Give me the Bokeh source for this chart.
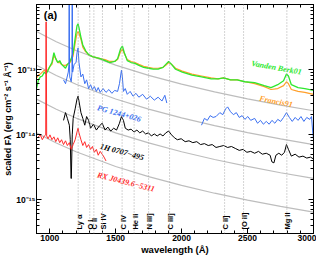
import numpy as np
from bokeh.plotting import figure
from bokeh.models import (Range1d, LogAxis, LinearAxis, FixedTicker,
                          CustomJSTickFormatter, Span)
from bokeh.core.properties import value
from bokeh.embed import file_html
from bokeh.resources import INLINE

# ---------------- data (flux values in units of 1e-14 erg/cm2/s/A) -------------
vb_wave = [900, 915, 929, 944, 959, 973, 988, 1002, 1017, 1032, 1046, 1061, 1076, 1090, 1105,
           1120, 1134, 1149, 1163, 1178, 1193, 1207, 1215, 1222, 1237, 1251, 1273, 1295, 1324,
           1354, 1383, 1420, 1456, 1493, 1515, 1537, 1551, 1566, 1588, 1617, 1646, 1676, 1712,
           1749, 1785, 1822, 1859, 1880, 1902, 1924, 1954, 2005, 2078, 2151, 2224, 2276, 2319,
           2371, 2422, 2480, 2554, 2627, 2678, 2729, 2773, 2795, 2810, 2832, 2883, 2934, 3000]
vb_flux = [5.09, 6.93, 7.69, 7.95, 9.12, 8.51, 9.76, 11.2, 12.8, 18.1, 14.7, 12.8, 13.7, 12.0, 11.2,
           10.45, 12.0, 12.8, 14.7, 18.1, 30.2, 47.1, 50.4, 44.0, 31.3, 23.8, 19.4, 16.9, 15.8,
           15.2, 14.7, 13.7, 12.8, 13.3, 14.7, 20.7, 23.0, 18.1, 13.7, 12.8, 12.4, 11.6, 10.8,
           10.45, 10.1, 10.1, 10.8, 12.0, 13.3, 12.0, 10.1, 9.12, 8.2, 7.69, 7.18, 7.18, 7.43,
           6.93, 6.93, 6.48, 6.26, 5.65, 5.27, 5.84, 6.70, 8.51, 7.95, 5.84, 5.27, 5.09, 4.76]
fr_wave = vb_wave
fr_flux = [7.43, 8.2, 8.51, 9.12, 9.76, 9.12, 10.1, 11.2, 12.0, 16.3, 14.7, 12.8, 12.8, 12.0, 11.6,
           11.6, 12.0, 12.4, 13.7, 16.3, 25.5, 35.8, 38.4, 35.8, 29.2, 22.1, 18.7, 16.9, 15.8,
           15.2, 14.7, 14.2, 13.3, 13.3, 14.2, 18.7, 20.7, 17.5, 14.2, 13.3, 12.8, 12.0, 11.2,
           10.8, 10.45, 10.45, 10.8, 11.6, 12.8, 12.0, 10.45, 9.43, 8.51, 7.95, 7.43, 7.18, 7.43,
           6.93, 6.93, 6.48, 6.05, 5.46, 4.92, 5.09, 5.65, 6.48, 6.05, 4.92, 4.60, 4.45, 4.15]

pg_wave1 = [1105, 1120, 1134, 1141, 1146, 1147, 1149, 1150, 1152, 1163, 1169, 1170, 1172, 1173,
            1174, 1185, 1200, 1207, 1215, 1222, 1237, 1251, 1266, 1280, 1295, 1310, 1324, 1339,
            1354, 1368, 1383, 1405, 1427, 1449, 1471, 1493, 1515, 1529, 1544, 1551, 1559, 1573,
            1588, 1610, 1632, 1654, 1676, 1705, 1734, 1763, 1793, 1822, 1851, 1873, 1888]
pg_flux1 = [6.93, 6.05, 7.95, 9.12, 12.0, 200, 200, 12.0, 7.69, 6.48, 9.0, 200, 200, 10.0,
            9.12, 12.0, 12.8, 18.1, 21.4, 12.8, 7.69, 8.51, 6.05, 6.93, 5.09, 5.84, 4.92, 5.46,
            4.60, 5.27, 4.45, 5.09, 4.45, 4.92, 4.30, 4.76, 4.60, 6.05, 9.76, 7.69, 4.60, 5.09,
            4.15, 4.60, 3.88, 4.30, 3.75, 4.15, 3.50, 3.88, 3.38, 3.75, 3.27, 4.01, 3.05]
pg_wave2 = [2151, 2173, 2195, 2217, 2239, 2261, 2290, 2312, 2334, 2349, 2371, 2393, 2415, 2437,
            2459, 2480, 2502, 2524, 2554, 2576, 2598, 2620, 2642, 2664, 2685, 2707, 2729, 2751,
            2773, 2795, 2817, 2839, 2861, 2883, 2905, 2927, 2949, 2971, 2985, 2993, 3000]
pg_flux2 = [1.39, 1.77, 1.65, 1.95, 1.83, 1.89, 2.17, 2.02, 2.48, 2.66, 2.24, 2.02, 2.17, 1.83,
            1.95, 1.71, 1.89, 1.65, 1.77, 1.49, 1.65, 1.44, 1.59, 1.44, 1.65, 1.49, 1.71, 1.59,
            1.83, 2.17, 1.83, 1.59, 1.83, 1.65, 1.89, 1.59, 1.83, 1.71, 1.89, 1.17, 0.831]

h_wave = [1105, 1120, 1134, 1149, 1156, 1162, 1164, 1171, 1178, 1193, 1207, 1215, 1222, 1237,
          1251, 1266, 1280, 1295, 1310, 1332, 1354, 1376, 1398, 1420, 1441, 1463, 1485, 1507,
          1529, 1544, 1559, 1573, 1595, 1617, 1639, 1661, 1683, 1705, 1727, 1749, 1771, 1793,
          1815, 1837, 1859, 1880, 1902, 1924, 1946, 1968, 1997, 2027, 2056, 2085, 2115, 2144,
          2173, 2202, 2232, 2261, 2290, 2319, 2349, 2378, 2407, 2437, 2466, 2495, 2524, 2554,
          2583, 2612, 2642, 2671, 2685, 2700, 2715, 2737, 2759, 2780, 2795, 2810, 2832, 2861,
          2890, 2920, 2949, 2978, 3000]
h_flux = [1.65, 2.17, 1.77, 1.39, 0.831, 0.211, 0.211, 0.987, 1.77, 2.48, 3.50, 3.88, 3.27,
          2.17, 1.77, 1.39, 1.89, 1.65, 1.25, 1.44, 1.17, 1.35, 1.49, 1.17, 1.30, 1.13, 1.25,
          1.17, 1.49, 1.89, 1.65, 1.25, 1.17, 1.21, 1.09, 1.17, 1.06, 1.13, 1.02, 1.06, 0.95,
          1.02, 0.95, 1.02, 0.95, 1.06, 1.13, 0.987, 0.890, 0.831, 0.86, 0.776, 0.80, 0.750,
          0.776, 0.700, 0.724, 0.677, 0.700, 0.632, 0.654, 0.677, 0.632, 0.654, 0.611, 0.57,
          0.590, 0.533, 0.55, 0.515, 0.55, 0.498, 0.515, 0.48, 0.379, 0.366, 0.48, 0.515, 0.48,
          0.533, 0.700, 0.590, 0.465, 0.498, 0.449, 0.465, 0.434, 0.449, 0.419]

rx_wave = [907, 929, 944, 959, 970, 972, 974, 977, 988, 1002, 1017, 1032, 1046, 1061, 1076,
           1090, 1105, 1120, 1134, 1149, 1163, 1178, 1193, 1207, 1215, 1222, 1237, 1251, 1266,
           1280, 1295, 1310, 1324, 1339, 1354, 1368, 1383, 1398, 1412, 1427]
rx_flux = [0.89, 0.987, 0.831, 0.95, 0.987, 54.0, 54.0, 0.95, 0.86, 0.987, 0.831, 0.921, 0.776,
           0.89, 0.75, 0.831, 0.70, 0.80, 0.677, 0.75, 0.59, 0.70, 0.831, 1.09, 1.25, 1.06,
           0.831, 0.677, 0.776, 0.632, 0.70, 0.59, 0.654, 0.533, 0.59, 0.48, 0.55, 0.498,
           0.449, 0.392]

# power-law (lambda^-7/3) reference continua, read at a few wavelengths
pl_wave = [900, 1050, 1200, 1500, 1750, 2000, 2250, 2500, 2750, 3000]
pl_1 = [38.4, 26.8, 19.6, 11.7, 8.14, 5.96, 4.53, 3.54, 2.83, 2.32]
pl_2 = [11.6, 8.10, 5.93, 3.52, 2.46, 1.80, 1.37, 1.07, 0.856, 0.699]
pl_3 = [3.50, 2.44, 1.79, 1.06, 0.742, 0.543, 0.413, 0.323, 0.258, 0.211]
pl_4 = [1.06, 0.740, 0.542, 0.322, 0.225, 0.165, 0.125, 0.0977, 0.0782, 0.0639]

line_wave = [1216, 1304, 1335, 1400, 1549, 1640, 1750, 1909, 2326, 2470, 2798]
line_name = ["Ly \u03b1", "O I", "C II", "Si IV", "C IV", "He II", "N III]", "C III]",
             "C II]", "[O II]", "Mg II"]

x_ticks = [1000, 1500, 2000, 2500, 3000]
y_ticks = [1e-15, 1e-14, 1e-13]

UNIT = 1e-14
def f(v):
    return np.array(v) * UNIT

# ---------------- figure ----------------
FONT = "Liberation Sans"
p = figure(width=316, height=257, y_axis_type="log",
           x_range=Range1d(900, 3000), y_range=Range1d(3e-16, 1e-12),
           output_backend="svg", toolbar_location=None,
           min_border_left=0, min_border_right=2, min_border_top=2, min_border_bottom=0)
p.grid.visible = False
p.outline_line_color = "black"
p.outline_line_width = 1
p.background_fill_color = "white"
p.border_fill_color = "white"

xminor = list(range(900, 3001, 100))
yminor = [m * 10.0 ** e for e in range(-16, -12) for m in range(2, 10)]
xt = FixedTicker(ticks=x_ticks, minor_ticks=xminor)
yt = FixedTicker(ticks=y_ticks, minor_ticks=yminor)

fmt = CustomJSTickFormatter(code="""
const e = Math.round(Math.log10(tick));
const sup = {"-":"\u207b","0":"\u2070","1":"\u00b9","2":"\u00b2","3":"\u00b3","4":"\u2074","5":"\u2075","6":"\u2076","7":"\u2077","8":"\u2078","9":"\u2079"};
return "10" + String(e).split("").map(c => sup[c]).join("");
""")
blank = CustomJSTickFormatter(code="return ' ';")

def style(ax):
    ax.axis_line_color = "black"
    ax.major_tick_in = 5
    ax.major_tick_out = 0
    ax.minor_tick_in = 3
    ax.minor_tick_out = 0
    ax.major_label_text_font = FONT
    ax.major_label_text_font_style = "bold"
    ax.major_label_text_font_size = "8.5px"
    ax.major_label_text_color = "black"
    ax.axis_label_text_font = FONT
    ax.axis_label_text_font_style = "bold"
    ax.axis_label_text_font_size = "9.5px"
    ax.axis_label_text_color = "black"
    ax.major_label_standoff = 1
    ax.axis_label_standoff = 0

xa = p.xaxis[0]
xa.ticker = xt
style(xa)
xa.axis_label = "wavelength (\u00c5)"

ya = p.yaxis[0]
ya.ticker = yt
ya.formatter = fmt
style(ya)
ya.axis_label_text_font_size = "9px"
ya.axis_label = "scaled F\u03bb (erg cm\u207b\u00b2 s\u207b\u00b9 \u00c5\u207b\u00b9)"

top = LinearAxis(ticker=xt, formatter=blank)
right = LogAxis(ticker=yt, formatter=blank)
for ax in (top, right):
    style(ax)
    ax.major_label_text_font_size = "1px"
    ax.major_label_standoff = 0
p.add_layout(top, "above")
p.add_layout(right, "right")

# dotted emission-line markers
for w in line_wave:
    p.add_layout(Span(location=w, dimension="height", line_color="#a8a8a8",
                      line_dash="1 2", line_width=1))

# power-law continua
for pl in (pl_1, pl_2, pl_3, pl_4):
    p.line(pl_wave, f(pl), line_color="#bdbdbd", line_width=1.2)

# spectra
p.line(fr_wave, f(fr_flux), line_color="#ff9f2a", line_width=1.2)
p.line(vb_wave, f(vb_flux), line_color="#2ee82e", line_width=1.3)
p.line(pg_wave1, f(pg_flux1), line_color="#3a6ff0", line_width=1)
p.line(pg_wave2, f(pg_flux2), line_color="#3a6ff0", line_width=1)
p.line(h_wave, f(h_flux), line_color="black", line_width=1)
p.line(rx_wave, f(rx_flux), line_color="#ff2a2a", line_width=1)

# emission-line labels
p.text(x=line_wave, y=[3.45e-16] * len(line_wave), text=line_name, angle=np.pi / 2,
       text_align="left", text_baseline="middle", x_offset=1,
       text_font=value(FONT), text_font_style="bold", text_font_size="7.5px",
       text_color="black")

# spectrum labels
lab_text = ["Vanden Berk01", "Francis91", "PG 1244+026", "1H 0707\u2212495", "RX J0439.6\u22125311"]
lab_x = [2530, 2590, 1361, 1383, 1361]
lab_y = [1.25e-13, 3.6e-14, 2.6e-14, 6.6e-15, 2.4e-15]
lab_c = ["#2ee82e", "#ff9f2a", "#3a6ff0", "black", "#ff2a2a"]
lab_a = [-0.18, -0.19, -0.27, -0.26, -0.25]
p.text(x=lab_x, y=lab_y, text=lab_text, angle=lab_a, text_color=lab_c,
       text_align="left", text_baseline="middle",
       text_font=value("Liberation Serif"), text_font_style="bold italic",
       text_font_size="8px")

p.text(x=[955], y=[6.8e-13], text=["(a)"], text_align="left", text_baseline="middle",
       text_font=value(FONT), text_font_style="bold", text_font_size="11px",
       text_color="black")

open("out.html", "w").write(file_html(p, INLINE))
